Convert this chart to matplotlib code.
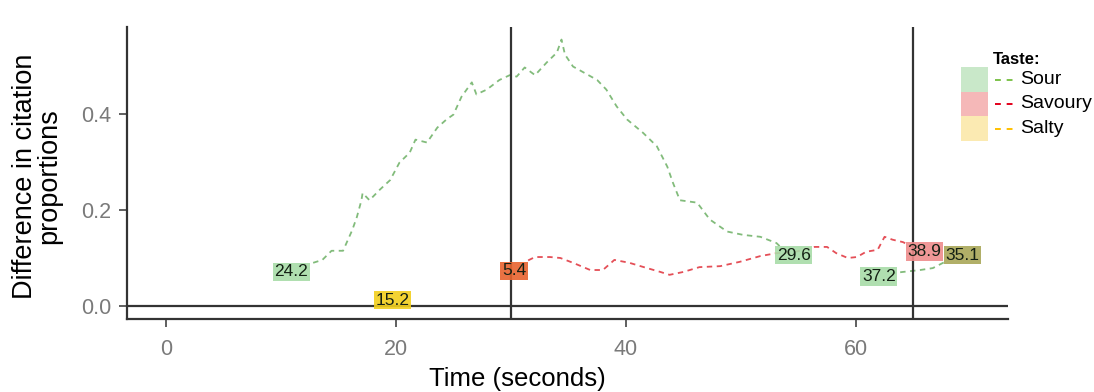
import matplotlib
matplotlib.use("Agg")
import matplotlib.pyplot as plt
from matplotlib.lines import Line2D
from matplotlib.patches import Rectangle

plt.rcParams['font.family'] = ['Liberation Sans', 'DejaVu Sans']

# sour, first stretch (seconds, difference)
sour_t1 = [12.8, 13.6, 14.4, 15.4, 16.2, 16.6, 17.0, 17.1, 17.7, 18.6, 19.5, 20.3,
           21.2, 21.7, 22.7, 23.6, 24.4, 25.0, 25.7, 26.6, 27.0, 27.9, 29.0, 29.9,
           30.5, 31.2, 32.1, 33.1, 34.0, 34.4, 34.7, 35.4, 36.3, 37.5, 38.3, 39.2,
           40.1, 41.5, 42.7, 43.6, 44.1, 44.7, 46.2, 47.3, 48.8, 50.2, 51.7, 53.1, 53.7]
sour_v1 = [0.090, 0.096, 0.115, 0.115, 0.158, 0.185, 0.220, 0.235, 0.220, 0.242, 0.262, 0.298,
           0.319, 0.346, 0.340, 0.371, 0.388, 0.398, 0.435, 0.465, 0.440, 0.450, 0.470, 0.480,
           0.477, 0.496, 0.480, 0.506, 0.527, 0.554, 0.523, 0.498, 0.486, 0.470, 0.450, 0.415,
           0.388, 0.360, 0.332, 0.290, 0.256, 0.220, 0.215, 0.180, 0.155, 0.148, 0.144, 0.131, 0.117]
# sour, second stretch
sour_t2 = [63.0, 64.1, 65.6, 66.7, 68.0]
sour_v2 = [0.068, 0.071, 0.075, 0.079, 0.095]

# savoury
sav_t = [31.5, 32.1, 33.4, 34.3, 35.4, 36.9, 38.0, 39.0, 40.3, 41.7, 43.0, 43.8, 45.0,
         46.4, 48.2, 49.9, 51.7, 53.1, 54.6, 56.4, 57.5, 58.3, 59.3, 60.1, 60.9, 61.9,
         62.5, 63.2, 64.1, 65.2]
sav_v = [0.095, 0.102, 0.102, 0.100, 0.090, 0.075, 0.075, 0.096, 0.090, 0.080, 0.071, 0.065, 0.071,
         0.081, 0.083, 0.092, 0.104, 0.110, 0.112, 0.123, 0.123, 0.110, 0.100, 0.102, 0.113, 0.117,
         0.144, 0.138, 0.133, 0.120]

# point labels: x, y, text, colour
lab_x = [10.9, 19.7, 30.3, 54.6, 62.0, 66.0, 69.3]
lab_y = [0.071, 0.0125, 0.073, 0.106, 0.062, 0.113, 0.106]
lab_txt = ["24.2", "15.2", "5.4", "29.6", "37.2", "38.9", "35.1"]
lab_col = ["#a8dca8", "#f2cf1d", "#e8632e", "#a8dca8", "#a8dca8", "#ee8c8c", "#a9a657"]

tastes = ["Sour", "Savoury", "Salty"]
line_cols = ["#7dc24b", "#e3001b", "#ffc000"]
patch_cols = ["#c9e8c9", "#f5b8b8", "#fbeab2"]

fig = plt.figure(figsize=(10.94, 3.92), dpi=100)
ax = fig.add_axes([0.116, 0.186, 0.805, 0.745])

dash = (0, (3, 2.5))
ax.plot(sour_t1, sour_v1, color="#6cb064", lw=1.3, ls=dash, alpha=0.85)
ax.plot(sour_t2, sour_v2, color="#6cb064", lw=1.3, ls=dash, alpha=0.85)
ax.plot(sav_t, sav_v, color="#e0303a", lw=1.3, ls=dash, alpha=0.85)

ax.axhline(0, color="#333333", lw=1.6)
ax.axvline(30, color="#333333", lw=1.6)
ax.axvline(65, color="#333333", lw=1.6)

for x, y, t, c in zip(lab_x, lab_y, lab_txt, lab_col):
    ax.text(x, y, t, ha="center", va="center", fontsize=12.5, color="#142014",
            bbox=dict(boxstyle="square,pad=0.1", fc=c, ec="none", alpha=0.9))

ax.set_xlim(-3.4, 73.2)
ax.set_ylim(-0.027, 0.58)
ax.set_xticks([0, 20, 40, 60])
ax.set_yticks([0.0, 0.2, 0.4])
ax.set_yticklabels(["0.0", "0.2", "0.4"])

for s in ["top", "right"]:
    ax.spines[s].set_visible(False)
for s in ["left", "bottom"]:
    ax.spines[s].set_color("#333333")
    ax.spines[s].set_linewidth(1.6)

ax.tick_params(axis="both", colors="#444444", labelcolor="#7a7a7a", labelsize=15.5,
               length=6, width=1.2)
ax.tick_params(axis="x", pad=8)
ax.tick_params(axis="y", pad=5)

ax.set_xlabel("Time (seconds)", fontsize=18.5)
ax.xaxis.set_label_coords(0.443, -0.165)
ax.set_ylabel("Difference in citation\nproportions", fontsize=19.5, linespacing=0.95)
ax.yaxis.set_label_coords(-0.073, 0.49)

# legend drawn by hand: colour blocks, dashed keys, labels
fig.text(993 / 1094, 1 - 60 / 392, "Taste:", fontsize=12, fontweight="bold", va="center")
for i, (name, lc, pc) in enumerate(zip(tastes, line_cols, patch_cols)):
    top = 67 + i * 24.5
    fig.add_artist(Rectangle((961 / 1094, 1 - (top + 24.5) / 392), 27 / 1094, 24.5 / 392,
                             transform=fig.transFigure, fc=pc, ec="none"))
    yc = 1 - (top + 12.5) / 392
    fig.add_artist(Line2D([995 / 1094, 1015 / 1094], [yc, yc], transform=fig.transFigure,
                          color=lc, lw=1.4, ls=(0, (3, 3))))
    fig.text(1020 / 1094, yc, name, fontsize=14, va="center")

fig.savefig("out.png", dpi=100)
